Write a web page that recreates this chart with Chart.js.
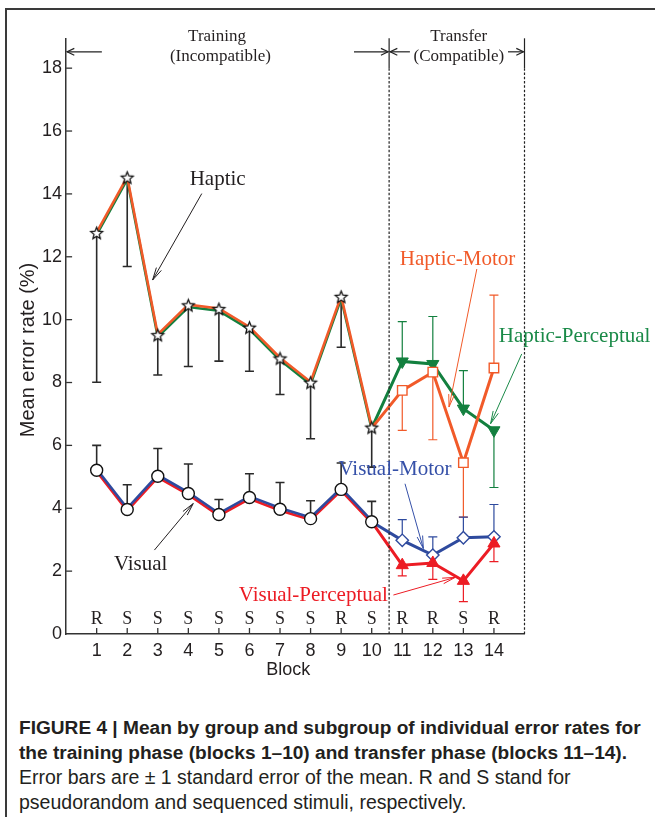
<!DOCTYPE html>
<html>
<head>
<meta charset="utf-8">
<script src="https://cdn.jsdelivr.net/npm/chart.js@4.4.1/dist/chart.umd.min.js"></script>
<style>
  html, body { margin: 0; padding: 0; background: #fff; }
  body { width: 655px; height: 817px; position: relative; overflow: hidden; }
  #frame { position: absolute; left: 5px; top: 8px; width: 700px; height: 900px;
           border-left: 2px solid #3a3a3a; border-top: 2px solid #3a3a3a; }
  #wrap { position: absolute; left: 0; top: 0; width: 655px; height: 690px; }
  #caption { position: absolute; left: 19px; top: 716px; color: #231f20; }
  #caption div { white-space: nowrap; height: 24.6px; line-height: 24.6px; }
  #caption .b { font-family: "Liberation Sans Narrow", "Arial Narrow", "Liberation Sans", sans-serif;
                font-weight: bold; font-size: 19.1px; }
  #caption .r { font-family: "Liberation Sans", Arial, sans-serif; font-size: 19.5px; }
</style>
</head>
<body>
<div id="frame"></div>
<div id="wrap"><canvas id="chart" width="655" height="690"></canvas></div>
<div id="caption">
  <div class="b">FIGURE 4 | Mean by group and subgroup of individual error rates for</div>
  <div class="b">the training phase (blocks 1–10) and transfer phase (blocks 11–14).</div>
  <div class="r">Error bars are ± 1 standard error of the mean. R and S stand for</div>
  <div class="r">pseudorandom and sequenced stimuli, respectively.</div>
</div>
<script>
// ---- data ----
const blocks = [1, 2, 3, 4, 5, 6, 7, 8, 9, 10, 11, 12, 13, 14];
const trainingBlocks = [1, 2, 3, 4, 5, 6, 7, 8, 9, 10];
const transferBlocks = [11, 12, 13, 14];
const stimulusType = ['R', 'S', 'S', 'S', 'S', 'S', 'S', 'S', 'R', 'S', 'R', 'R', 'S', 'R'];
const yTicks = [0, 2, 4, 6, 8, 10, 12, 14, 16, 18];

// training phase, group means (error rate, %)
const hapticMean  = [12.74, 14.50, 9.49, 10.44, 10.32, 9.73, 8.75, 7.98, 10.71, 6.55];
const hapticLower = [8.01, 11.69, 8.24, 8.51, 8.68, 8.36, 7.62, 6.21, 9.12, 5.31];
const visualMean  = [5.21, 3.96, 5.02, 4.47, 3.80, 4.34, 3.97, 3.67, 4.60, 3.57];
const visualUpper = [6.00, 4.75, 5.90, 5.41, 4.28, 5.10, 4.82, 4.24, 5.44, 4.22];

// transfer phase, subgroup means
const hapticMotorMean  = [7.75, 8.33, 5.45, 8.46];
const hapticMotorLower = [6.48, 6.18, 3.72, null];
const hapticMotorUpper = [null, null, null, 10.78];
const hapticPercMean   = [8.67, 8.59, 7.17, 6.48];
const hapticPercLower  = [null, null, null, 4.66];
const hapticPercUpper  = [9.94, 10.10, 8.38, null];
const visualMotorMean  = [2.98, 2.51, 3.06, 3.09];
const visualMotorUpper = [3.64, 3.09, 3.72, 4.12];
const visualPercMean   = [2.19, 2.26, 1.69, 2.88];
const visualPercLower  = [1.85, 1.74, 1.03, 2.30];

// ---- styles ----
const INK = '#231f20';
const ORANGE = '#F15A29';
const GREEN = '#13803F';
const BLUE = '#2E4A9E';
const RED = '#EC1C24';
const SERIF = '"Liberation Serif", "Times New Roman", serif';
const SANS = '"Liberation Sans", Arial, sans-serif';

const pts = (xs, ys) => xs.map((x, i) => ({ x: x, y: ys[i] }));
// transfer lines start from the last training block
const fromLast = (last, ys) => [{ x: 10, y: last }].concat(pts(transferBlocks, ys));

function starImage(r) {
  const s = Math.ceil(r * 2 + 4);
  const c = document.createElement('canvas');
  c.width = s; c.height = s;
  const g = c.getContext('2d');
  g.translate(s / 2, s / 2);
  g.beginPath();
  for (let i = 0; i < 10; i++) {
    const rr = i % 2 ? r * 0.45 : r;
    const a = -Math.PI / 2 + i * Math.PI / 5;
    g.lineTo(rr * Math.cos(a), rr * Math.sin(a));
  }
  g.closePath();
  g.fillStyle = '#fff'; g.fill();
  g.lineWidth = 1.3; g.strokeStyle = '#111'; g.stroke();
  return c;
}
const star = starImage(6.2);

const errorBars = [
  { xs: trainingBlocks, mean: hapticMean, lo: hapticLower, hi: null, color: '#2a2a2a', width: 1.6 },
  { xs: trainingBlocks, mean: visualMean, lo: null, hi: visualUpper, color: '#2a2a2a', width: 1.6 },
  { xs: transferBlocks, mean: hapticMotorMean, lo: hapticMotorLower, hi: hapticMotorUpper, color: ORANGE, width: 1.2 },
  { xs: transferBlocks, mean: hapticPercMean, lo: hapticPercLower, hi: hapticPercUpper, color: GREEN, width: 1.2 },
  { xs: transferBlocks, mean: visualMotorMean, lo: null, hi: visualMotorUpper, color: BLUE, width: 1.2 },
  { xs: transferBlocks, mean: visualPercMean, lo: visualPercLower, hi: null, color: RED, width: 1.2 }
];

// labels and pointer arrows, in data units
const notes = [
  { text: 'Haptic', x: 4.96, y: 14.47, color: INK, from: [4.44, 14.01], to: [2.83, 11.26] },
  { text: 'Visual', x: 2.44, y: 2.22, color: INK, from: [2.89, 2.67], to: [4.16, 4.15] },
  { text: 'Haptic-Motor', x: 12.81, y: 11.90, color: ORANGE, from: [13.44, 11.61], to: [12.53, 7.22] },
  { text: 'Haptic-Perceptual', x: 16.64, y: 9.46, color: '#1A8A48', from: [14.91, 8.91], to: [13.89, 6.69] },
  { text: 'Visual-Motor', x: 10.76, y: 5.24, color: '#3550A8', from: [11.09, 4.78], to: [11.69, 2.72] },
  { text: 'Visual-Perceptual', x: 8.09, y: 1.24, color: RED, from: [10.71, 1.24], to: [12.73, 1.80] }
];

const phaseSplit = 10.57;
const phaseEnd = 15;

function arrow(ctx, x1, y1, x2, y2, color, lw, len, spread) {
  const a = Math.atan2(y2 - y1, x2 - x1);
  ctx.save();
  ctx.strokeStyle = color; ctx.lineWidth = lw; ctx.setLineDash([]);
  ctx.beginPath(); ctx.moveTo(x1, y1); ctx.lineTo(x2, y2); ctx.stroke();
  ctx.beginPath();
  ctx.moveTo(x2 - len * Math.cos(a - spread), y2 - len * Math.sin(a - spread));
  ctx.lineTo(x2, y2);
  ctx.lineTo(x2 - len * Math.cos(a + spread), y2 - len * Math.sin(a + spread));
  ctx.stroke();
  ctx.restore();
}

const decor = {
  id: 'decor',
  beforeDatasetsDraw(chart) {
    const ctx = chart.ctx, xs = chart.scales.x, ys = chart.scales.y;
    ctx.save();
    errorBars.forEach(eb => {
      ctx.strokeStyle = eb.color; ctx.lineWidth = eb.width;
      eb.xs.forEach((b, i) => {
        const px = xs.getPixelForValue(b), pm = ys.getPixelForValue(eb.mean[i]);
        [eb.lo, eb.hi].forEach(arr => {
          if (!arr || arr[i] == null) return;
          const pe = ys.getPixelForValue(arr[i]);
          ctx.beginPath();
          ctx.moveTo(px, pm); ctx.lineTo(px, pe);
          ctx.moveTo(px - 4.5, pe); ctx.lineTo(px + 4.5, pe);
          ctx.stroke();
        });
      });
    });
    ctx.restore();
  },
  beforeDatasetDraw(chart, args) {
    const s = chart.data.datasets[args.index].shiftY;
    chart.ctx.save();
    if (s) chart.ctx.translate(0, s);
  },
  afterDatasetDraw(chart) {
    chart.ctx.restore();
  },
  afterDraw(chart) {
    const ctx = chart.ctx, xs = chart.scales.x, ys = chart.scales.y, area = chart.chartArea;
    const X = v => xs.getPixelForValue(v), Y = v => ys.getPixelForValue(v);
    ctx.save();
    // inward tick marks
    ctx.strokeStyle = '#333'; ctx.lineWidth = 1.3;
    blocks.forEach(b => { ctx.beginPath(); ctx.moveTo(X(b), area.bottom); ctx.lineTo(X(b), area.bottom - 6); ctx.stroke(); });
    yTicks.forEach(t => { if (t === 0) return; ctx.beginPath(); ctx.moveTo(area.left, Y(t)); ctx.lineTo(area.left + 6, Y(t)); ctx.stroke(); });

    // phase dividers: solid above the top tick, dotted below
    [phaseSplit, phaseEnd].forEach(v => {
      ctx.lineWidth = 1.2; ctx.strokeStyle = '#222';
      ctx.setLineDash([]);
      ctx.beginPath(); ctx.moveTo(X(v), area.top); ctx.lineTo(X(v), Y(18)); ctx.stroke();
      ctx.setLineDash([2.5, 1.8]);
      ctx.beginPath(); ctx.moveTo(X(v), Y(18)); ctx.lineTo(X(v), area.bottom); ctx.stroke();
    });
    ctx.setLineDash([]);

    // phase brackets
    const ay = Y(18.52);
    arrow(ctx, X(1.17), ay, X(0) + 1, ay, '#222', 1.2, 8, 0.45);
    arrow(ctx, X(9.42), ay, X(phaseSplit) - 1, ay, '#222', 1.2, 8, 0.45);
    arrow(ctx, X(11.25), ay, X(phaseSplit) + 1, ay, '#222', 1.2, 8, 0.45);
    arrow(ctx, X(14.46), ay, X(phaseEnd) - 1, ay, '#222', 1.2, 8, 0.45);
    ctx.fillStyle = INK; ctx.textAlign = 'center'; ctx.textBaseline = 'middle';
    ctx.font = '17px ' + SERIF;
    ctx.fillText('Training', X(4.94), Y(19.02));
    ctx.fillText('(Incompatible)', X(5.05), Y(18.38));
    ctx.fillText('Transfer', X(12.85), Y(19.02));
    ctx.fillText('(Compatible)', X(12.85), Y(18.38));

    // stimulus type per block
    ctx.font = '18px ' + SERIF;
    blocks.forEach((b, i) => ctx.fillText(stimulusType[i], X(b), Y(0.48)));

    // series labels with pointers
    ctx.font = '21px ' + SERIF;
    notes.forEach(n => {
      ctx.fillStyle = n.color;
      ctx.fillText(n.text, X(n.x), Y(n.y));
      arrow(ctx, X(n.from[0]), Y(n.from[1]), X(n.to[0]), Y(n.to[1]), n.color, 1, 13, 0.22);
    });

    // axis titles
    ctx.fillStyle = INK;
    ctx.font = '18px ' + SANS;
    ctx.fillText('Block', X(7.5) - 7, area.bottom + 36);
    ctx.translate(28, 350);
    ctx.rotate(-Math.PI / 2);
    ctx.font = '20px ' + SANS;
    ctx.fillText('Mean error rate (%)', 0, 0);
    ctx.restore();
  }
};

const lineDs = (data, color, width, extra) => Object.assign({
  data: data, borderColor: color, borderWidth: width, backgroundColor: color,
  pointRadius: 0, showLine: true, tension: 0, fill: false
}, extra || {});

const datasets = [
  // training double lines
  lineDs(pts(trainingBlocks, hapticMean), GREEN, 2.6, { order: 8, shiftY: 1.2 }),
  lineDs(pts(trainingBlocks, hapticMean), ORANGE, 2.6, { order: 7, shiftY: -1.2 }),
  lineDs(pts(trainingBlocks, visualMean), RED, 2.6, { order: 8, shiftY: 1.2 }),
  lineDs(pts(trainingBlocks, visualMean), BLUE, 2.6, { order: 7, shiftY: -1.2 }),
  // transfer subgroups
  lineDs(fromLast(hapticMean[9], hapticPercMean), GREEN, 3, {
    order: 6, pointStyle: 'triangle', pointRotation: 180, pointRadius: [0, 7, 7, 7, 7],
    pointBackgroundColor: GREEN, pointBorderColor: GREEN, pointBorderWidth: 1 }),
  lineDs(fromLast(hapticMean[9], hapticMotorMean), ORANGE, 3, {
    order: 5, pointStyle: 'rect', pointRadius: [0, 6.7, 6.7, 6.7, 6.7],
    pointBackgroundColor: '#fff', pointBorderColor: ORANGE, pointBorderWidth: 1.4 }),
  lineDs(fromLast(visualMean[9], visualMotorMean), BLUE, 3, {
    order: 5, pointStyle: 'rectRot', pointRadius: [0, 6.2, 6.2, 6.2, 6.2],
    pointBackgroundColor: '#fff', pointBorderColor: BLUE, pointBorderWidth: 1.4 }),
  lineDs(fromLast(visualMean[9], visualPercMean), RED, 3, {
    order: 4, pointStyle: 'triangle', pointRadius: [0, 7, 7, 7, 7],
    pointBackgroundColor: RED, pointBorderColor: RED, pointBorderWidth: 1 }),
  // training markers
  { data: pts(trainingBlocks, hapticMean), showLine: false, pointStyle: star, pointRadius: 7, order: 1 },
  { data: pts(trainingBlocks, visualMean), showLine: false, pointStyle: 'circle', pointRadius: 6,
    pointBackgroundColor: '#fff', pointBorderColor: '#111', pointBorderWidth: 1.4, order: 1 }
];

new Chart(document.getElementById('chart'), {
  type: 'scatter',
  data: { datasets: datasets },
  options: {
    responsive: false,
    animation: false,
    devicePixelRatio: 1,
    events: [],
    layout: { padding: { left: 6.1, right: 130.5, top: 38.3, bottom: 0 } },
    plugins: { legend: { display: false }, tooltip: { enabled: false } },
    datasets: { scatter: { clip: false } },
    scales: {
      x: {
        type: 'linear', min: 0, max: 15,
        afterBuildTicks: s => { s.ticks = blocks.map(v => ({ value: v })); },
        afterFit: s => { s.height = 56; },
        grid: { display: false, drawTicks: false },
        border: { display: true, color: '#333', width: 1.5 },
        ticks: { color: INK, font: { family: SANS, size: 18 }, padding: 6, maxRotation: 0, autoSkip: false }
      },
      y: {
        type: 'linear', min: 0, max: 18.95,
        afterBuildTicks: s => { s.ticks = yTicks.map(v => ({ value: v })); },
        afterFit: s => { s.width = 60; },
        grid: { display: false, drawTicks: false },
        border: { display: true, color: '#333', width: 1.5 },
        ticks: { color: INK, font: { family: SANS, size: 18 }, padding: 4 }
      }
    }
  },
  plugins: [decor]
});
</script>
</body>
</html>
